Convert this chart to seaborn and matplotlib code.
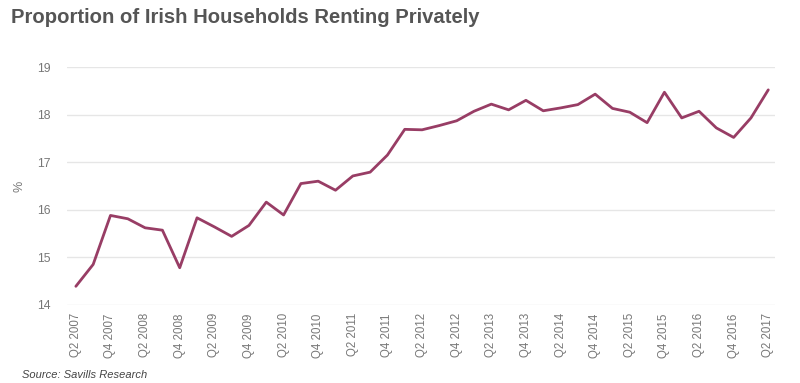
import matplotlib
matplotlib.use("Agg")
import matplotlib.pyplot as plt
import seaborn as sns
import pandas as pd

# Data kuartalan Q2 2007 - Q2 2017
kuartal = []
for tahun in range(2007, 2018):
    for q in ["Q1", "Q2", "Q3", "Q4"]:
        kuartal.append(f"{q} {tahun}")
kuartal = kuartal[1:42]

persen = [14.39, 14.85, 15.88, 15.81, 15.62, 15.57, 14.78, 15.83, 15.64, 15.44,
          15.67, 16.16, 15.89, 16.55, 16.60, 16.41, 16.71, 16.79, 17.15, 17.69,
          17.68, 17.77, 17.87, 18.07, 18.22, 18.10, 18.30, 18.08, 18.14, 18.21,
          18.43, 18.13, 18.05, 17.83, 18.47, 17.93, 18.07, 17.72, 17.52, 17.93,
          18.52]

y_ticks = [14, 15, 16, 17, 18, 19]

df = pd.DataFrame({"idx": range(len(kuartal)), "kuartal": kuartal, "persen": persen})

sns.set_style("white")
plt.rcParams["font.family"] = ["Liberation Sans", "DejaVu Sans"]

fig = plt.figure(figsize=(8, 3.83), dpi=100)
ax = fig.add_axes([0.084, 0.204, 0.885, 0.621])

sns.lineplot(data=df, x="idx", y="persen", ax=ax, color="#983D65", linewidth=2.0)

ax.set_ylim(14, 19)
ax.set_xlim(-0.5, 40.4)
ax.set_yticks(y_ticks)
ax.set_xticks(df["idx"][::2])
ax.set_xticklabels(df["kuartal"][::2], rotation=90, fontsize=8.3, color="#777777")
ax.tick_params(axis="y", labelsize=8.8, labelcolor="#777777", length=0, pad=12)
ax.tick_params(axis="x", length=0, pad=6)
ax.grid(axis="y", color="#e6e6e6", linewidth=1.0)
for s in ax.spines.values():
    s.set_visible(False)
ax.set_xlabel("")
ax.set_ylabel("%", fontsize=9, color="#777777", labelpad=8)

fig.text(0.014, 0.955, "Proportion of Irish Households Renting Privately",
         fontsize=14.6, fontweight="bold", color="#555555", va="center")
fig.text(0.027, 0.008, "Source: Savills Research", fontsize=8, style="italic",
         color="#444444", va="bottom")

fig.savefig("out.png", dpi=100)
plt.close(fig)
